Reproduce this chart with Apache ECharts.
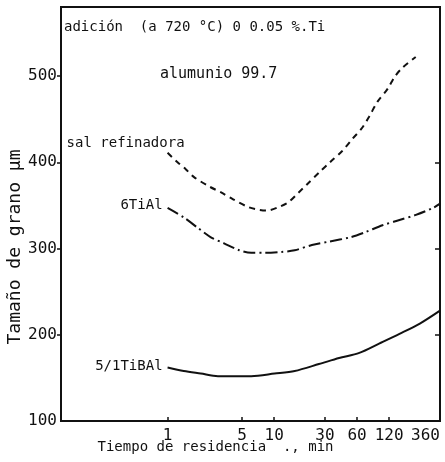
<!DOCTYPE html>
<html>
<head>
<meta charset="utf-8">
<script src="https://cdn.jsdelivr.net/npm/echarts@6/dist/echarts.min.js"></script>
<style>
  html, body { margin: 0; padding: 0; background: #fff; }
  #chart { width: 445px; height: 462px; }
</style>
</head>
<body>
<div id="chart"></div>
<script>
// Tiempo de residencia (min) y tamaño de grano (μm) para cada afinador
const salTiempo = [1.0, 1.24, 1.48, 1.76, 2.45, 3.18, 4.12, 5.72, 7.1, 8.5, 11.0, 13.7, 17.0, 20.2, 26.9, 33.4, 43.5, 54.2, 67, 78, 93, 116, 135, 161, 213];
const salTamano = [411, 400, 392, 383, 372, 365, 357, 348, 345, 344, 348, 354, 365, 374, 389, 400, 413, 427, 440, 453, 470, 485, 499, 510, 522];

const tiAlTiempo = [1.0, 1.42, 1.92, 2.55, 3.39, 4.7, 6.1, 8.1, 11.7, 15.6, 22.6, 32.7, 51.9, 71.9, 104, 150, 214, 309, 360];
const tiAlTamano = [347, 336, 324, 313, 306, 298, 295, 295, 296, 298, 304, 308, 313, 319, 327, 333, 339, 347, 352];

const tiBAlTiempo = [1.0, 1.42, 2.05, 2.97, 6.1, 10.1, 15.6, 26.3, 40.7, 63, 97.6, 150, 233, 360];
const tiBAlTamano = [162, 158, 155, 152, 152, 155, 158, 166, 173, 179, 190, 201, 213, 228];

const xTicks = [1, 5, 10, 30, 60, 120, 360];
const yTicks = [100, 200, 300, 400, 500];

const FONT = '"DejaVu Sans Mono", monospace';

function pairs(xs, ys) { return xs.map((x, i) => [x, ys[i]]); }

// the first point of each curve carries the curve's name on its left
function startLabel(data, name, offset) {
  return data.map((p, i) => i === 0 ? {
    value: p,
    symbol: 'circle',
    symbolSize: 2,
    itemStyle: { color: 'rgba(0,0,0,0)', borderWidth: 0 },
    label: {
      show: true, position: 'left', distance: 4, offset: offset,
      formatter: name, color: '#111', fontFamily: FONT, fontSize: 14
    }
  } : { value: p, symbol: 'none' });
}

const chart = echarts.init(document.getElementById('chart'), null, { renderer: 'canvas' });

chart.setOption({
  animation: false,
  backgroundColor: '#fff',
  grid: {
    left: 61, right: 5, top: 7, bottom: 41,
    outerBoundsMode: 'none',
    containLabel: false,
    show: true, borderColor: '#111', borderWidth: 2, backgroundColor: 'transparent'
  },
  graphic: [
    { type: 'text', left: 64, top: 20, style: { text: 'adición  (a 720 °C) 0 0.05 %.Ti', font: '14px ' + FONT, fill: '#111' } },
    { type: 'text', left: 160, top: 67, style: { text: 'alumunio 99.7', font: '15px ' + FONT, fill: '#111' } }
  ],
  xAxis: {
    type: 'log', logBase: 10, min: 0.1, max: 360,
    name: 'Tiempo de residencia  ., min',
    nameLocation: 'middle', nameGap: 19, nameMoveOverlap: false,
    nameTextStyle: { color: '#111', fontFamily: FONT, fontSize: 14, padding: [0, 70, 0, 0] },
    axisLine: { show: true, lineStyle: { color: '#111', width: 2 } },
    axisTick: { show: true, inside: true, length: 4, customValues: xTicks.slice(0, 6), lineStyle: { color: '#111', width: 1.5 } },
    axisLabel: { customValues: xTicks, color: '#111', fontFamily: FONT, fontSize: 16, margin: 7, alignMaxLabel: 'right' },
    splitLine: { show: false },
    minorTick: { show: false }
  },
  yAxis: [
    {
      type: 'value', min: 100, max: 580, position: 'left',
      name: 'Tamaño de grano μm',
      nameLocation: 'middle', nameGap: 37, nameMoveOverlap: false,
      nameTextStyle: { color: '#111', fontFamily: FONT, fontSize: 18, padding: [0, 66, 0, 0] },
      axisLine: { show: true, lineStyle: { color: '#111', width: 2 } },
      axisTick: { show: true, inside: false, length: 4, customValues: [200, 300, 400, 500], lineStyle: { color: '#111', width: 1.5 } },
      axisLabel: { customValues: yTicks, color: '#111', fontFamily: FONT, fontSize: 16, margin: 4 },
      splitLine: { show: false }
    },
    {
      type: 'value', min: 100, max: 580, position: 'right',
      axisLine: { show: true, lineStyle: { color: '#111', width: 2 } },
      axisTick: { show: true, inside: true, length: 5, customValues: [200, 300, 400], lineStyle: { color: '#111', width: 1.5 } },
      axisLabel: { show: false },
      splitLine: { show: false }
    }
  ],
  series: [
    {
      name: 'sal refinadora', type: 'line', smooth: 0.3, showSymbol: true,
      data: startLabel(pairs(salTiempo, salTamano), 'sal refinadora', [22, -9]),
      lineStyle: { color: '#111', width: 2, type: [6, 5] }
    },
    {
      name: '6TiAl', type: 'line', smooth: 0.3, showSymbol: true,
      data: startLabel(pairs(tiAlTiempo, tiAlTamano), '6TiAl', [0, -3]),
      lineStyle: { color: '#111', width: 2, type: [12, 4, 2, 4] }
    },
    {
      name: '5/1TiBAl', type: 'line', smooth: 0.3, showSymbol: true,
      data: startLabel(pairs(tiBAlTiempo, tiBAlTamano), '5/1TiBAl', [0, -1]),
      lineStyle: { color: '#111', width: 2 }
    }
  ]
});
</script>
</body>
</html>
